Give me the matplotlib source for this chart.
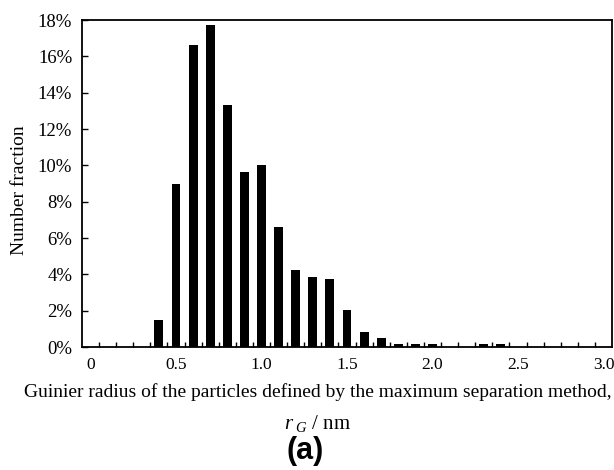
import matplotlib.pyplot as plt
import numpy as np

plt.rcParams['font.family'] = ['Liberation Serif', 'DejaVu Serif']
plt.rcParams['mathtext.fontset'] = 'custom'
plt.rcParams['mathtext.it'] = 'Liberation Serif:italic'
plt.rcParams['mathtext.rm'] = 'Liberation Serif'

# Guinier radius classes (nm) and number fraction (%)
radius_nm = [0.0, 0.1, 0.2, 0.3, 0.4, 0.5, 0.6, 0.7, 0.8, 0.9, 1.0,
             1.1, 1.2, 1.3, 1.4, 1.5, 1.6, 1.7, 1.8, 1.9, 2.0,
             2.1, 2.2, 2.3, 2.4, 2.5, 2.6, 2.7, 2.8, 2.9, 3.0]
fraction_pct = [0, 0, 0, 0, 1.50, 8.98, 16.60, 17.74, 13.32, 9.66, 10.04,
                6.62, 4.23, 3.86, 3.73, 2.01, 0.82, 0.50, 0.16, 0.16, 0.16,
                0, 0, 0.14, 0.14, 0, 0, 0, 0, 0, 0]
x_ticks = [0.0, 0.5, 1.0, 1.5, 2.0, 2.5, 3.0]
x_labels = ["0", "0.5", "1.0", "1.5", "2.0", "2.5", "3.0"]
y_ticks = [0, 2, 4, 6, 8, 10, 12, 14, 16, 18]

fig = plt.figure(figsize=(6.14, 4.70), dpi=100)
ax = fig.add_axes([82 / 614, 1 - 347 / 470, 530 / 614, 327 / 470])

ax.bar(radius_nm, fraction_pct, width=0.052, color="black")

ax.set_xlim(-0.05, 3.05)
ax.set_ylim(0, 18)

ax.set_xticks(x_ticks)
ax.set_xticklabels(x_labels)
ax.tick_params(axis="x", which="major", length=0, pad=7, labelsize=12.5)
# small inward ticks sit between the classes
boundaries = [r + 0.05 for r in radius_nm[:-1]]
ax.set_xticks(boundaries, minor=True)
ax.tick_params(axis="x", which="minor", direction="in", length=3.8, width=1.0)

ax.set_yticks(y_ticks)
ax.set_yticklabels([f"{v}%" for v in y_ticks])
ax.tick_params(axis="y", direction="in", length=4.2, width=1.0, pad=7, labelsize=13.5)

for s in ax.spines.values():
    s.set_linewidth(1.3)

fig.text(20 / 614, 1 - 190 / 470, "Number fraction", rotation=90,
         ha="center", va="center", fontsize=14)
fig.text(318 / 614, 1 - 392 / 470,
         "Guinier radius of the particles defined by the maximum separation method,",
         ha="center", va="center", fontsize=14)
fig.text(318 / 614, 1 - 423 / 470, r"$r_{\ G}$ / nm",
         ha="center", va="center", fontsize=15)
fig.text(305 / 614, 1 - 451 / 470, "(a)", ha="center", va="center",
         fontsize=22, fontweight="bold", family="Liberation Sans")

fig.savefig("out.png", dpi=100)
